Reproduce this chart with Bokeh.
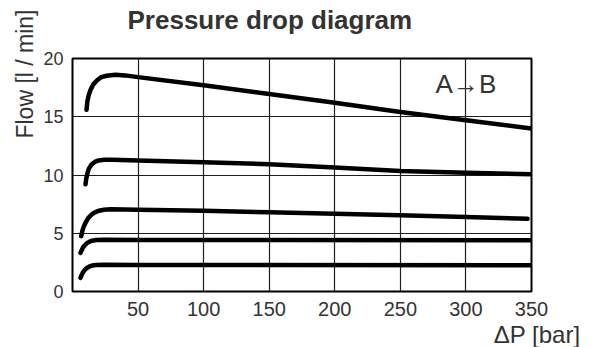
from bokeh.plotting import figure
from bokeh.models import FixedTicker, Label, Range1d, Title
from bokeh.embed import file_html
from bokeh.resources import INLINE

# ---- data ----
title_text = "Pressure drop diagram"
x_label = "\u0394P [bar]"
y_label = "Flow [l / min]"
flow_dir = "A\u2192B"

x_ticks = [50, 100, 150, 200, 250, 300, 350]
y_ticks = [0, 5, 10, 15, 20]

c1_x = [10.7, 11.3, 12.5, 13.7, 16.0, 19.0, 22.0, 26.0, 32.8, 40.0, 50.0, 100.0, 150.0, 200.0, 250.0, 300.0, 350.0]
c1_y = [15.6, 16.3, 16.9, 17.3, 17.8, 18.15, 18.4, 18.52, 18.6, 18.55, 18.4, 17.7, 16.95, 16.2, 15.4, 14.7, 14.0]

c2_x = [9.9, 10.5, 11.5, 12.5, 14.5, 17.0, 20.0, 24.0, 30.0, 50.0, 100.0, 150.0, 200.0, 250.0, 300.0, 350.0]
c2_y = [9.2, 9.7, 10.2, 10.55, 10.9, 11.12, 11.25, 11.3, 11.3, 11.25, 11.1, 10.92, 10.65, 10.35, 10.2, 10.07]

c3_x = [6.6, 7.5, 8.5, 9.9, 12.0, 14.0, 16.3, 20.0, 24.0, 29.0, 50.0, 100.0, 150.0, 200.0, 250.0, 300.0, 347.0]
c3_y = [4.75, 5.2, 5.55, 5.9, 6.3, 6.55, 6.75, 6.93, 7.02, 7.07, 7.02, 6.93, 6.8, 6.67, 6.55, 6.4, 6.24]

c4_x = [6.1, 7.0, 8.0, 9.2, 11.0, 13.0, 15.0, 18.0, 24.0, 50.0, 350.0]
c4_y = [3.32, 3.55, 3.78, 3.95, 4.15, 4.28, 4.36, 4.42, 4.44, 4.42, 4.40]

c5_x = [6.1, 7.0, 8.0, 9.2, 11.0, 13.0, 15.0, 18.0, 24.0, 50.0, 350.0]
c5_y = [1.17, 1.42, 1.65, 1.83, 2.02, 2.15, 2.23, 2.28, 2.3, 2.27, 2.26]

curves = [(c1_x, c1_y), (c2_x, c2_y), (c3_x, c3_y), (c4_x, c4_y), (c5_x, c5_y)]

FONT = "Liberation Sans"
TXT = "#333333"

p = figure(width=598, height=347, output_backend="svg", toolbar_location=None,
           x_range=Range1d(0, 350), y_range=Range1d(0, 20),
           min_border_left=72, min_border_right=67,
           min_border_top=58, min_border_bottom=56)

p.background_fill_color = "white"
p.border_fill_color = "white"
p.outline_line_color = "black"
p.outline_line_width = 2

# title above (a blank spacer sits between the title and the frame)
p.add_layout(Title(text=" ", standoff=0, text_font=FONT,
                   text_font_size="20px"), "above")
p.title = Title(text=title_text, align="left", offset=55, standoff=0,
                text_font=FONT, text_font_size="26px", text_font_style="bold",
                text_color=TXT)

for ax in (p.xaxis, p.yaxis):
    ax.axis_line_color = None
    ax.major_tick_line_color = None
    ax.minor_tick_line_color = None
    ax.major_tick_in = 0
    ax.major_tick_out = 0
    ax.major_label_text_font = FONT
    ax.major_label_text_color = TXT

p.xaxis.major_label_standoff = 10
p.yaxis.major_label_standoff = 9
p.xaxis.ticker = FixedTicker(ticks=x_ticks)
p.yaxis.ticker = FixedTicker(ticks=y_ticks)
p.xaxis.major_label_text_font_size = "20px"
p.yaxis.major_label_text_font_size = "18px"

p.xgrid.ticker = FixedTicker(ticks=x_ticks[:-1])
p.ygrid.ticker = FixedTicker(ticks=y_ticks[1:-1])
for g in (p.xgrid, p.ygrid):
    g.grid_line_color = "#1e1e1e"
    g.grid_line_width = 1.2
    g.grid_line_alpha = 1.0

for xs, ys in curves:
    p.line(xs, ys, line_width=4.5, line_color="black",
           line_cap="round", line_join="round")

# axis titles as side-panel titles
p.add_layout(Title(text=x_label, align="right", offset=-49, standoff=0,
                   text_font=FONT, text_font_size="24px",
                   text_font_style="normal", text_color=TXT), "below")
p.add_layout(Title(text=y_label, align="right", offset=-49, standoff=5,
                   text_font=FONT, text_font_size="23px",
                   text_font_style="normal", text_color=TXT), "left")

p.add_layout(Label(x=300, y=17.8, text=flow_dir, text_font=FONT,
                   text_font_size="26px", text_color=TXT,
                   text_align="center", text_baseline="middle"))

open("out.html", "w").write(file_html(p, INLINE))
